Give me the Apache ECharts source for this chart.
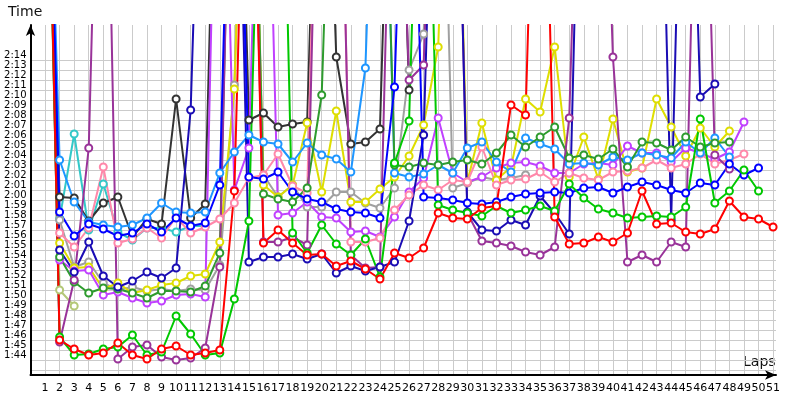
<!DOCTYPE html>
<html>
<head>
<meta charset="utf-8">
<script src="https://cdn.jsdelivr.net/npm/echarts@6/dist/echarts.min.js"></script>
<style>
  html, body { margin: 0; padding: 0; background: #fff; }
  #lap_chart { width: 800px; height: 400px; }
</style>
</head>
<body>
<div id="lap_chart"></div>
<script>
// lap numbers (x axis)
const laps = [1,2,3,4,5,6,7,8,9,10,11,12,13,14,15,16,17,18,19,20,21,22,23,24,25,26,27,28,29,30,31,32,33,34,35,36,37,38,39,40,41,42,43,44,45,46,47,48,49,50,51];

// lap times in seconds (values above 137.5 run off the top of the chart)
const red = [172,106,105.1,104.5,104.7,105.7,104.5,104.1,105.1,105.4,104.5,104.7,105,120.9,175,115.7,117,115.7,114.5,114.6,113.4,113.9,113.1,112.1,114.7,114.2,115.2,118.7,118.2,118.1,119.2,119.4,129.5,128.5,178,118.3,115.6,115.7,116.3,115.8,116.7,120.9,117.6,117.7,116.8,116.6,117.1,119.9,118.3,118.1,117.3];
const green = [170,106.3,104.5,104.6,105.1,105.3,106.5,104.5,104.8,108.4,106.6,104.5,104.7,110.1,117.9,172,180,116.7,114.7,117.5,115.6,114.5,116.1,112.3,123.7,127.9,176,119.5,119,118.7,118.4,119.4,118.7,119,119.4,118.9,121.6,120.2,119.1,118.7,118.2,118.3,118.4,118.3,119.3,128.1,119.7,120.9,123,120.9,null];
const darkGreen = [168,114.3,111.8,110.7,111.2,111.1,110.7,110.2,110.9,110.9,110.8,111.4,114.7,175,180,120.6,120.1,119.8,121.2,130.5,175,180,180,175,123.5,123.3,123.7,123.5,123.8,124,123.6,124.7,126.5,125.3,126.3,127.3,124.2,124.5,124.1,125.1,123.3,125.8,125.7,125,126.3,125.3,125.7,125.8];
const lightBlue = [171,124,119.8,117.8,117.5,117.3,117.5,118.2,119.7,118.8,118.7,118.8,122.7,124.8,126.5,125.8,125.6,123.8,125.7,124.5,124.1,122.8,133.2,176,122.7,122.3,122.6,123.5,122.7,125.2,125.8,123.8,122.8,126.2,125.6,125.1,123.6,123.7,123.5,124.3,124,124.7,124.5,124.2,125.8,124.7,126.2,124.3];
const cyan = [170,118.1,126.6,117,121.6,116.8,116,117.2,117.2,116.8,117.4,117.4];
const pink = [169,116.7,115.3,117.2,123.3,115.7,116.1,117.2,116.2,118.3,116.7,117.3,118.1,119.7,122.2,122.5,124.6,121.4,120.7,176,176,115.8,115.8,116.2,119,120.5,121.5,121,122,121.8,125.3,121.5,122,122.1,122.8,121.8,122.7,122.2,122,122.8,122.9,123.2,124,123.2,123.6,124.6,123.6,124,124.6];
const violet = [170,114,112.9,113,110.5,110.8,110.2,109.7,109.9,110.5,110.6,110.3,176,121,125.2,176,118.5,118.7,119.8,118.3,118.2,116.8,116.9,116.3,118.3,120.8,122.2,128.2,122.7,121.8,122.3,123.2,123.7,123.8,123.4,122.7,122.7,123.6,123.7,123.5,125.4,124.7,124.7,123.8,125.2,124.7,124.1,124.8,127.8];
const purple = [172,105.8,112,125.2,180,104.1,105.3,105.5,104.3,104,104.2,105.2,113.3,176,178,115.8,115.8,116.3,115.5,176,178,114.5,113.2,113.3,172,132,133.5,176,178,118.7,115.9,115.7,115.4,114.8,114.5,115.3,128.2,176,178,134.3,113.8,114.5,113.8,115.8,115.3,176,124.5,123.1];
const yellow = [169,115.7,113.2,113.3,111.1,111.7,110.7,111,111.5,111.7,112.4,112.6,115.8,131.1,176,121.5,120.3,121.5,127.7,120.8,128.9,119.8,119.8,121.1,122.3,124.4,127.5,135.3,176,121.8,127.7,122,123.3,130.1,128.8,135.3,122.3,126.3,122.1,128.1,122.8,123.2,130.1,127.3,124.4,127.2,125.3,126.9];
const grey = [171,118,113.3,113.8,111.7,111,111.3,110.9,111.1,110.9,111.1,111,113.5,131.5,176,122.5,120.3,121.5,119.3,119.3,120.8,120.8,119.7,119.2,121.2,133,136.6,178,121.2,121.7,122.3,122,122.2,122.5];
const black = [170,120.3,120.2,117.9,119.7,120.3,116.3,118.1,117.6,130.1,118.2,119.6,176,180,128,128.7,127.3,127.6,127.8,176,134.3,125.6,125.8,127.1,176,131];
const navy = [171,115,112.8,115.8,112.4,111.3,111.9,112.8,112.2,113.2,129,176,180,176,113.8,114.3,114.3,114.6,114.1,114.6,112.7,113.4,112.9,113.3,113.8,117.9,126.5,176,178,118.8,117,116.9,118,117.5,120.4,118.7,116.6,176,178,178,178,178,176,118,176,130.3,131.6];
const blue = [171,118.8,116.4,117.6,117.1,116.4,116.7,117.6,116.8,118.2,117.4,117.7,121.5,176,122.3,122.1,122.8,120.8,120.1,119.8,119.1,118.8,118.7,118.2,131.3,176,120.3,120.2,120,119.7,119.6,119.8,120.3,120.6,120.7,120.8,120.7,121.2,121.3,120.7,121.3,121.8,121.5,121,120.7,121.7,121.5,123.6,122.5,123.2];
const olive = [170,111,109.4];

const driverNames = ['olive','cyan','black','grey','yellow','violet','pink','lightBlue','darkGreen','purple','navy','blue','green','red'];
const driverTimes = [olive,cyan,black,grey,yellow,violet,pink,lightBlue,darkGreen,purple,navy,blue,green,red];
const driverColors = ['#b4c878','#33c8c8','#333333','#a0a0a0','#dede00','#c040ff','#ff88aa','#1e96ff','#2e9b2e','#993399','#1a0cb4','#0000ff','#00c800','#ff0000'];

function fmtTime(v) {
  const m = Math.floor(v / 60);
  const s = v - m * 60;
  return m + ':' + (s < 10 ? '0' : '') + s;
}

// grid line colours: only whole seconds 1:43..2:14 and laps 1..51
const yLineColors = [];
for (let i = 0; i <= 70; i++) {
  const v = 102.5 + i * 0.5;
  yLineColors.push(v % 1 === 0 && v >= 103 && v <= 134 ? '#cbcbcb' : 'rgba(0,0,0,0)');
}
const xLineColors = [];
for (let i = 0; i <= 52; i++) {
  xLineColors.push(i >= 1 && i <= 51 ? '#cbcbcb' : 'rgba(0,0,0,0)');
}

var domLap = document.getElementById('lap_chart');
var myChartLap = echarts.init(domLap, null, { renderer: 'canvas' });

var optionLap = {
  animation: false,
  backgroundColor: '#ffffff',
  grid: { left: 30.5, right: 24, top: 25, bottom: 25 },
  graphic: [
    { type: 'text', left: 8, top: 5, style: { text: 'Time', font: '14px "DejaVu Sans"', fill: '#111' } },
    { type: 'text', left: 743, top: 355, style: { text: 'Laps', font: '14px "DejaVu Sans"', fill: '#111' } }
  ],
  xAxis: {
    type: 'value',
    min: 0,
    max: 51.2,
    interval: 1,
    axisLine: { lineStyle: { color: '#000', width: 2 }, symbol: ['none', 'arrow'], symbolSize: [7, 11] },
    axisTick: { show: false },
    axisLabel: {
      margin: 8,
      fontSize: 11,
      fontFamily: 'DejaVu Sans',
      color: '#000',
      formatter: function (v) { return (v % 1 === 0 && v >= 1 && v <= 51) ? String(v) : ''; }
    },
    splitLine: { show: true, lineStyle: { color: xLineColors, width: 1 } }
  },
  yAxis: {
    type: 'value',
    min: 102.5,
    max: 137.5,
    interval: 0.5,
    axisLine: { lineStyle: { color: '#000', width: 2 }, symbol: ['none', 'arrow'], symbolSize: [7, 11] },
    axisTick: { show: false },
    axisLabel: {
      margin: 4,
      fontSize: 10,
      lineHeight: 10,
      fontFamily: 'DejaVu Sans',
      color: '#000',
      verticalAlign: 'bottom',
      formatter: function (v) { return (v % 1 === 0 && v >= 104 && v <= 134) ? fmtTime(v) : ''; }
    },
    splitLine: { show: true, lineStyle: { color: yLineColors, width: 1 } }
  },
  series: driverNames.map(function (name, k) {
    return {
      name: name,
      type: 'line',
      clip: true,
      symbol: 'emptyCircle',
      symbolSize: 7,
      lineStyle: { width: 2, color: driverColors[k] },
      itemStyle: { color: driverColors[k], borderWidth: 1.5 },
      data: laps.map(function (l, i) {
        const t = driverTimes[k][i];
        return [l, t === undefined ? null : t];
      })
    };
  })
};

if (optionLap && typeof optionLap === 'object') {
  myChartLap.setOption(optionLap);
}

window.addEventListener('resize', myChartLap.resize);
</script>
</body>
</html>
